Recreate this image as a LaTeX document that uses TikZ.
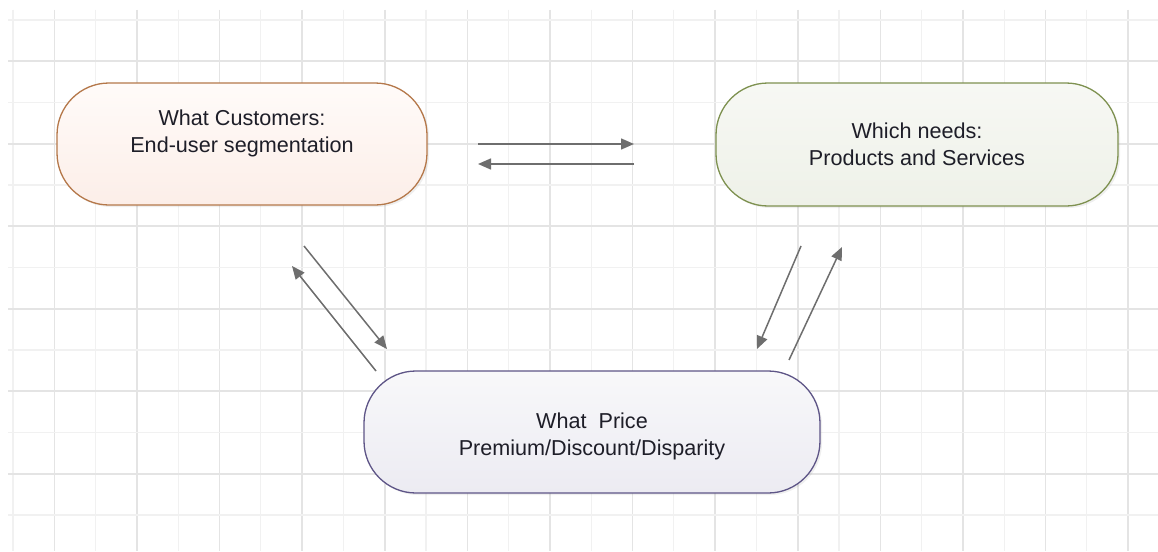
\documentclass[tikz,border=0pt]{standalone}
\usepackage{fontspec}
\setmainfont{Liberation Sans}
\usetikzlibrary{arrows.meta,shadows}
\definecolor{gridmajor}{HTML}{E4E4E4}
\definecolor{gridminor}{HTML}{F1F1F1}
\definecolor{arrowgray}{HTML}{6E6E6E}
\definecolor{custborder}{HTML}{B5784A}
\definecolor{custtop}{HTML}{FFFBF9}
\definecolor{custbot}{HTML}{FCEEE8}
\definecolor{needborder}{HTML}{7E9150}
\definecolor{needtop}{HTML}{F7F8F4}
\definecolor{needbot}{HTML}{EEF1E8}
\definecolor{priceborder}{HTML}{5E5587}
\definecolor{pricetop}{HTML}{F8F8FA}
\definecolor{pricebot}{HTML}{ECEBF2}
\definecolor{txt}{HTML}{1E1E28}
\tikzset{
  pilltext/.style={text=txt, align=center, font=\fontsize{21.6}{26.5}\selectfont},
  pill/.style={rectangle, rounded corners=52pt, line width=1.3pt,
    inner sep=0pt, pilltext,
    drop shadow={opacity=0.12, shadow xshift=2pt, shadow yshift=-2pt}},
  flow/.style={draw=arrowgray, line width=1.5pt,
    -{Triangle[length=13pt,width=11pt]}},
}
\begin{document}
\begin{tikzpicture}[x=1pt,y=-1pt]
\useasboundingbox (0,0) rectangle (1158,551);
\fill[white] (0,0) rectangle (1158,551);
% grid
\foreach \k in {0,...,27}{
  \pgfmathsetmacro{\xx}{13+41.3*\k}
  \ifodd\k
    \draw[gridmajor, line width=1.6pt] (\xx,10) -- (\xx,551);
  \else
    \draw[gridminor, line width=1.3pt] (\xx,10) -- (\xx,551);
  \fi
}
\foreach \k in {0,...,12}{
  \pgfmathsetmacro{\yy}{20+41.25*\k}
  \ifodd\k
    \draw[gridmajor, line width=1.6pt] (8,\yy) -- (1158,\yy);
  \else
    \draw[gridminor, line width=1.3pt] (8,\yy) -- (1158,\yy);
  \fi
}
% nodes
\node[pill, draw=custborder, top color=custtop, bottom color=custbot,
  minimum width=370pt, minimum height=122pt,
  label={[pilltext, yshift=10.5pt]center:{What Customers:\\End-user segmentation}}]
  (cust) at (242,144) {};
\node[pill, draw=needborder, top color=needtop, bottom color=needbot,
  minimum width=402pt, minimum height=123pt]
  (need) at (917,144.5) {Which needs:\\Products and Services};
\node[pill, draw=priceborder, top color=pricetop, bottom color=pricebot,
  minimum width=456pt, minimum height=122pt,
  label={[pilltext, yshift=-4.5pt]center:{What\ \ Price\\Premium/Discount/Disparity}}]
  (price) at (592,432) {};
% connector end points
\coordinate (h1s) at (478,144);
\coordinate (h1e) at (634,144);
\coordinate (h2s) at (634,164);
\coordinate (h2e) at (478,164);
\coordinate (das) at (304,246);
\coordinate (dae) at (387,349);
\coordinate (dbs) at (376,371);
\coordinate (dbe) at (292,266);
\coordinate (dcs) at (801,246);
\coordinate (dce) at (757,349);
\coordinate (dds) at (789,360);
\coordinate (dde) at (842,247);
% connectors
\draw[flow] (h1s) -- (h1e);
\draw[flow] (h2s) -- (h2e);
\draw[flow] (das) -- (dae);
\draw[flow] (dbs) -- (dbe);
\draw[flow] (dcs) -- (dce);
\draw[flow] (dds) -- (dde);
\end{tikzpicture}
\end{document}
